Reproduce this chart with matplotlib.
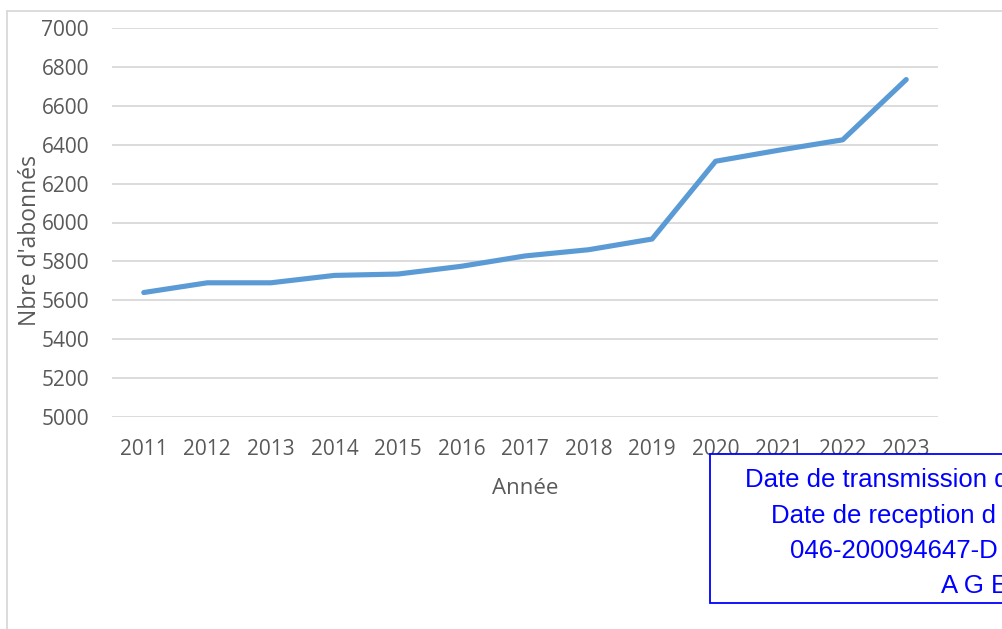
import matplotlib
matplotlib.use("Agg")
import matplotlib.pyplot as plt
from matplotlib.lines import Line2D
from matplotlib.patches import Rectangle

years = ["2011", "2012", "2013", "2014", "2015", "2016", "2017",
         "2018", "2019", "2020", "2021", "2022", "2023"]
abonnes = [5640, 5690, 5690, 5728, 5735, 5775, 5828, 5860, 5915,
           6315, 6372, 6425, 6735]
yticks = [5000, 5200, 5400, 5600, 5800, 6000, 6200, 6400, 6600, 6800, 7000]
stamp_lines = ["Date de transmission d", "Date de reception d",
               "046-200094647-D", "A G E"]

W, H = 1003, 629
fig = plt.figure(figsize=(W / 100, H / 100), dpi=100)
fig.patch.set_facecolor("white")

ax = fig.add_axes([112 / W, 1 - 417 / H, (938 - 112) / W, (417 - 28) / H])
x = list(range(len(years)))
ax.plot(x, abonnes, color="#5b9bd5", lw=3.7, solid_capstyle="round",
        solid_joinstyle="round", zorder=3)
ax.set_xlim(-0.5, len(years) - 0.5)
ax.set_ylim(5000, 7000)
ax.set_yticks(yticks)
ax.set_xticks(x)
ax.set_xticklabels(years)
ax.grid(axis="y", color="#d9d9d9", lw=1.3)
ax.set_axisbelow(True)
for s in ax.spines.values():
    s.set_visible(False)
ax.tick_params(length=0, labelsize=15, labelcolor="#595959")
for lab in ax.get_xticklabels() + ax.get_yticklabels():
    lab.set_fontfamily("Open Sans")
ax.tick_params(axis="y", pad=16.5)
ax.tick_params(axis="x", pad=16)

fig.text(525 / W, 1 - 489 / H, "Année", ha="center", va="center",
         fontsize=16, color="#595959", family="Open Sans")
fig.text(30 / W, 1 - 241 / H, "Nbre d'abonnés", ha="center", va="center",
         rotation=90, fontsize=16.5, color="#595959", family="Open Sans")

# chart border
fig.add_artist(Line2D([7 / W, 7 / W], [0, 1 - 11 / H], color="#d9d9d9",
                      lw=1.3, transform=fig.transFigure))
fig.add_artist(Line2D([7 / W, 1], [1 - 11 / H, 1 - 11 / H], color="#d9d9d9",
                      lw=1.3, transform=fig.transFigure))

# stamp box
fig.add_artist(Rectangle((710 / W, 1 - 603 / H), 0.5, (603 - 454) / H,
                         fill=True, facecolor="white", edgecolor="#0000ff",
                         lw=1.3, transform=fig.transFigure, zorder=5))
starts = [745, 771, 790, 941]
baselines = [487, 523, 558, 593]
for t, sx, by in zip(stamp_lines, starts, baselines):
    fig.text(sx / W, 1 - by / H, t, ha="left", va="baseline", fontsize=18.5,
             color="#0000ff", family="Liberation Sans", zorder=6)

fig.savefig("out.png", dpi=100)
